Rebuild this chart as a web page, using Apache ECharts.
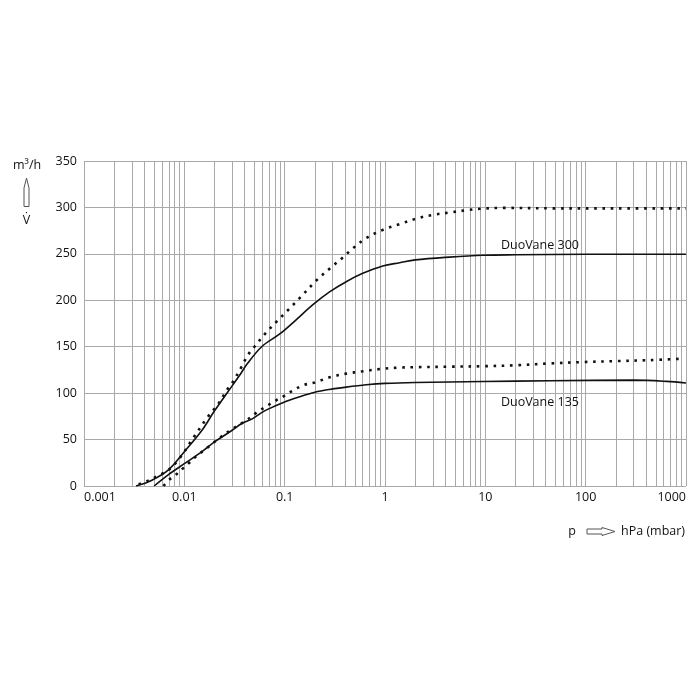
<!DOCTYPE html>
<html><head><meta charset="utf-8">
<script src="https://cdn.jsdelivr.net/npm/echarts@6/dist/echarts.min.js"></script>
<style>html,body{margin:0;padding:0;background:#fff}#c{width:700px;height:700px}</style>
</head><body><div id="c"></div>
<script>
// x: pressure p in hPa (log scale), y: pumping speed in m³/h
const xTickLabels = ['0.001', '0.01', '0.1', '1', '10', '100', '1000'];
const xDecades = [-3, -2, -1, 0, 1, 2];
const yMin = 0, yMax = 350, yStep = 50;

const duo300Solid = [
  [0.0033, 0], [0.0047, 6], [0.0069, 17], [0.01, 37], [0.015, 60], [0.02, 81],
  [0.027, 101], [0.036, 120], [0.042, 131], [0.059, 150], [0.09, 164], [0.13, 179],
  [0.19, 195], [0.28, 209], [0.41, 220], [0.6, 229], [0.95, 237], [1.4, 240.5],
  [2, 243.5], [4.4, 246.5], [9.5, 248.5], [20, 249], [100, 249.5], [1000, 249.5]
];
const duo300Dotted = [
  [0.0035, 2], [0.0042, 5], [0.0057, 12], [0.0069, 17], [0.009, 30], [0.0123, 52],
  [0.0173, 75], [0.022, 89], [0.0264, 103], [0.03, 111], [0.037, 128], [0.043, 141],
  [0.05, 150], [0.064, 164], [0.083, 177], [0.108, 189.5], [0.14, 202], [0.21, 222],
  [0.28, 234], [0.37, 245], [0.48, 256], [0.65, 267], [0.96, 276], [1.4, 282],
  [2.06, 288], [3, 292], [4.4, 294.5], [6.5, 297], [8.8, 298.5], [15, 299.5],
  [50, 299], [200, 299], [1000, 299]
];
const duo135Solid = [
  [0.005, 0], [0.0069, 12], [0.01, 24], [0.015, 37], [0.02, 47.5], [0.03, 60],
  [0.037, 67], [0.047, 72], [0.057, 78], [0.066, 82], [0.097, 90], [0.14, 96],
  [0.2, 101], [0.28, 104], [0.41, 106.5], [0.65, 109], [1, 110.5], [2, 111.5],
  [9.5, 112.5], [44, 113.3], [300, 114], [640, 112.7], [1000, 111]
];
const duo135Dotted = [
  [0.0062, 0], [0.0072, 7.5], [0.0084, 13], [0.0098, 19.5], [0.0112, 25], [0.0128, 31],
  [0.0173, 42], [0.0226, 52], [0.0307, 62], [0.042, 71], [0.0525, 79], [0.066, 86],
  [0.083, 92.5], [0.099, 97], [0.113, 101], [0.153, 108.5], [0.2, 111.5], [0.28, 117],
  [0.41, 121], [0.6, 123.5], [0.9, 126], [1.35, 127.5], [2.06, 128], [4.4, 128.5],
  [9.5, 129], [20, 130], [44, 132], [94, 133.5], [200, 134.5], [430, 135.5], [900, 137]
];
const curveNames = ['DuoVane 300', 'DuoVane 135'];
const curveLabelPos = [[35, 259], [35, 90]];

const FONT = 'Open Sans';
const FS = 12.5;
const TXT = '#111';
const toLog = arr => arr.map(d => [Math.log10(d[0]), d[1]]);

// gridline positions: 1..9 in each decade, plus top of the last decade
const gridVals = [];
xDecades.forEach(d => { for (let k = 1; k <= 9; k++) gridVals.push(d + Math.log10(k)); });
gridVals.push(xDecades[xDecades.length - 1] + 1);

const solidStyle = { color: '#111', width: 1.6 };
const dotStyle = { color: '#111', width: 2.6, type: [2.6, 5.7], cap: 'butt' };

function lineSeries(data, style, labelIdx) {
  const s = {
    type: 'line', data: toLog(data), showSymbol: false, symbol: 'none',
    smooth: 0.35, lineStyle: style, silent: true, z: 3
  };
  if (labelIdx !== undefined) {
    s.markPoint = {
      symbol: 'circle', symbolSize: 0, silent: true,
      data: [{
        coord: [Math.log10(curveLabelPos[labelIdx][0]), curveLabelPos[labelIdx][1]],
        label: { show: true, position: 'inside', formatter: curveNames[labelIdx],
          fontFamily: FONT, fontSize: FS, color: TXT }
      }]
    };
  }
  return s;
}

const chart = echarts.init(document.getElementById('c'), null, { renderer: 'canvas' });
chart.setOption({
  animation: false,
  backgroundColor: '#fff',
  grid: { left: 84, right: 14, top: 161, bottom: 214, containLabel: false },
  xAxis: {
    type: 'value', min: -3, max: 3, interval: 1,
    axisLine: { show: false },
    axisTick: { show: false, customValues: gridVals },
    splitLine: { show: true, lineStyle: { color: '#aaaaaa', width: 1 } },
    axisLabel: {
      fontFamily: FONT, fontSize: FS, color: TXT, margin: 5,
      alignMinLabel: 'left', alignMaxLabel: 'right',
      formatter: v => xTickLabels[Math.round(v) + 3]
    }
  },
  yAxis: {
    type: 'value', min: yMin, max: yMax, interval: yStep,
    axisLine: { show: false }, axisTick: { show: false },
    splitLine: { show: true, lineStyle: { color: '#aaaaaa', width: 1 } },
    axisLabel: { fontFamily: FONT, fontSize: FS, color: TXT, margin: 7 }
  },
  series: [
    lineSeries(duo300Dotted, dotStyle),
    lineSeries(duo300Solid, solidStyle, 0),
    lineSeries(duo135Dotted, dotStyle),
    lineSeries(duo135Solid, solidStyle, 1)
  ],
  graphic: [
    { type: 'text', left: 13, top: 159, style: { text: 'm³/h', font: FS + 'px "Open Sans"', fill: TXT } },
    { type: 'polygon', shape: { points: [[26.5, 178], [29, 188], [29, 206.5], [24, 206.5], [24, 188]] },
      style: { fill: '#fff', stroke: '#555', lineWidth: 1 } },
    { type: 'text', x: 26.5, y: 220, style: { text: 'V̇', font: FS + 'px "Open Sans"', fill: TXT, align: 'center', verticalAlign: 'middle' } },
    { type: 'text', x: 572, y: 531, style: { text: 'p', font: FS + 'px "Open Sans"', fill: TXT, align: 'center', verticalAlign: 'middle' } },
    { type: 'polygon', shape: { points: [[587, 529], [602, 529], [602, 527.5], [615, 531.5], [602, 535.5], [602, 534], [587, 534]] },
      style: { fill: '#fff', stroke: '#555', lineWidth: 1 } },
    { type: 'text', x: 621, y: 531, style: { text: 'hPa (mbar)', font: FS + 'px "Open Sans"', fill: TXT, align: 'left', verticalAlign: 'middle' } }
  ]
});
</script>
</body></html>
